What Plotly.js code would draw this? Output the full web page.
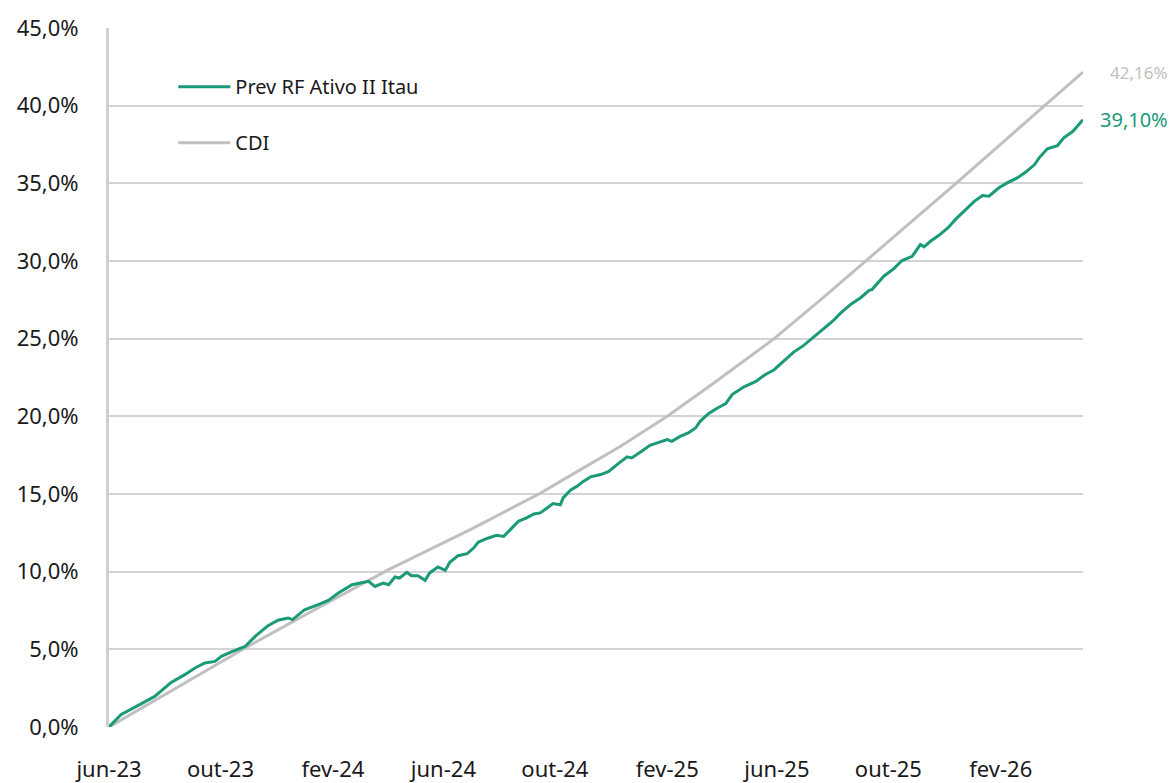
<!DOCTYPE html>
<html>
<head>
<meta charset="utf-8">
<script src="https://cdn.plot.ly/plotly-3.0.1.min.js"></script>
<style>
html,body{margin:0;padding:0;background:#fff;}
#chart{width:1171px;height:783px;}
</style>
</head>
<body>
<div id="chart"></div>
<script>
// Fund series (cumulative return, %)
const fundDates = [
'2023-06-01','2023-06-14','2023-07-03','2023-07-21','2023-08-08','2023-08-23','2023-09-03','2023-09-14','2023-09-25','2023-10-02',
'2023-10-13','2023-10-28','2023-11-08','2023-11-22','2023-12-03','2023-12-14','2023-12-19','2024-01-01','2024-01-16','2024-01-27',
'2024-02-07','2024-02-22','2024-03-11','2024-03-18','2024-03-27','2024-04-02','2024-04-09','2024-04-14','2024-04-22','2024-04-27',
'2024-05-04','2024-05-12','2024-05-17','2024-05-26','2024-06-03','2024-06-08','2024-06-17','2024-06-27','2024-07-04','2024-07-09',
'2024-07-18','2024-07-29','2024-08-06','2024-08-13','2024-08-22','2024-08-31','2024-09-08','2024-09-15','2024-09-22','2024-09-29',
'2024-10-07','2024-10-10','2024-10-18','2024-10-25','2024-11-01','2024-11-09','2024-11-20','2024-11-29','2024-12-08','2024-12-19',
'2024-12-24','2024-12-30','2025-01-04','2025-01-13','2025-01-24','2025-02-01','2025-02-06','2025-02-15','2025-02-24','2025-03-04',
'2025-03-09','2025-03-18','2025-03-28','2025-04-06','2025-04-13','2025-04-26','2025-05-09','2025-05-19','2025-05-29','2025-06-09',
'2025-06-19','2025-06-30','2025-07-10','2025-07-21','2025-08-01','2025-08-10','2025-08-21','2025-09-01','2025-09-10','2025-09-13',
'2025-09-26','2025-10-07','2025-10-16','2025-10-27','2025-11-05','2025-11-09','2025-11-16','2025-11-25','2025-12-05','2025-12-14',
'2025-12-25','2026-01-03','2026-01-12','2026-01-19','2026-01-30','2026-02-08','2026-02-19','2026-02-28','2026-03-10','2026-03-15',
'2026-03-24','2026-04-04','2026-04-11','2026-04-21','2026-05-02'
];
const fundValues = [
0.00,0.79,1.39,1.97,2.87,3.37,3.80,4.12,4.22,4.55,
4.83,5.19,5.83,6.52,6.87,7.02,6.91,7.55,7.88,8.15,
8.63,9.16,9.38,9.05,9.27,9.16,9.66,9.59,9.96,9.74,
9.74,9.44,9.92,10.30,10.08,10.60,11.03,11.16,11.52,11.89,
12.12,12.34,12.27,12.70,13.24,13.46,13.71,13.78,14.10,14.38,
14.31,14.75,15.24,15.49,15.81,16.10,16.25,16.46,16.89,17.39,
17.32,17.53,17.75,18.13,18.35,18.50,18.39,18.71,18.93,19.25,
19.68,20.17,20.54,20.82,21.40,21.90,22.25,22.68,23.00,23.60,
24.12,24.55,25.05,25.63,26.12,26.66,27.22,27.65,28.11,28.16,
29.02,29.51,30.03,30.30,31.06,30.91,31.27,31.64,32.13,32.71,
33.35,33.84,34.21,34.17,34.71,35.03,35.35,35.71,36.21,36.64,
37.22,37.43,37.93,38.35,39.10
];
// CDI benchmark (cumulative, %)
const cdiDates = [
'2023-06-01','2023-10-28','2024-01-12','2024-04-02','2024-07-02','2024-09-15','2024-10-29','2024-12-12',
'2025-02-01','2025-03-24','2025-05-29','2025-07-19','2025-09-08','2025-12-14','2026-03-21','2026-05-02'
];
const cdiValues = [
0.00,5.09,7.55,10.13,12.75,15.05,16.57,18.07,
20.00,22.15,25.00,27.51,30.09,35.00,40.00,42.16
];
// Axis ticks
const xTickVals = ['2023-06-01','2023-10-01','2024-02-01','2024-06-01','2024-10-01','2025-02-01','2025-06-01','2025-10-01','2026-02-01'];
const xTickText = ['jun-23','out-23','fev-24','jun-24','out-24','fev-25','jun-25','out-25','fev-26'];
const seriesNames = ['Prev RF Ativo II Itau','CDI'];
const endLabels = ['39,10%','42,16%'];

const GREEN = '#1b9a78';
const GREY = '#c0c0c0';
const FONT = 'Noto Sans, Open Sans, sans-serif';

const traces = [
  {x: cdiDates, y: cdiValues, type:'scatter', mode:'lines', name: seriesNames[1],
   line:{color:GREY, width:3}, legendgroup:'b', legendrank:2, hoverinfo:'x+y'},
  {x: fundDates, y: fundValues, type:'scatter', mode:'lines', name: seriesNames[0],
   line:{color:GREEN, width:3}, legendgroup:'a', legendrank:1, hoverinfo:'x+y'}
];

const layout = {
  width:1171, height:783,
  margin:{l:109, r:88, t:28, b:56},
  paper_bgcolor:'#fff', plot_bgcolor:'#fff',
  separators: ',.',
  font:{family:FONT, size:21, color:'#1a1a1a'},
  showlegend:true,
  legend:{x:0.066, y:0.944, xanchor:'left', yanchor:'top', traceorder:'grouped', itemwidth:52,
          tracegroupgap:27, bgcolor:'rgba(0,0,0,0)', font:{family:FONT, size:20, color:'#1a1a1a'}},
  xaxis:{type:'date', range:['2023-06-01','2026-05-02'], tickvals:xTickVals, ticktext:xTickText,
         showgrid:false, zeroline:false, showline:false, ticks:'', ticklabelstandoff:27,
         tickfont:{family:FONT, size:22, color:'#1a1a1a'}, fixedrange:true},
  yaxis:{range:[0,45], dtick:5, tick0:0, tickformat:'.1f', ticksuffix:'%',
         showgrid:true, gridcolor:'#d3d3d3', gridwidth:2, zeroline:false,
         showline:true, linecolor:'#d0d0d0', linewidth:3, ticks:'', ticklabelstandoff:23,
         tickfont:{family:FONT, size:22, color:'#1a1a1a'}, fixedrange:true},
  annotations:[
    {xref:'paper', yref:'y', x:1.089, y:cdiValues[cdiValues.length-1], xanchor:'right', yanchor:'middle',
     text:endLabels[1], showarrow:false, font:{family:FONT, size:17, color:GREY}},
    {xref:'paper', yref:'y', x:1.089, y:fundValues[fundValues.length-1], xanchor:'right', yanchor:'middle',
     text:endLabels[0], showarrow:false, font:{family:FONT, size:20, color:GREEN}}
  ]
};

Plotly.newPlot('chart', traces, layout, {displayModeBar:false, staticPlot:true});
</script>
</body>
</html>
